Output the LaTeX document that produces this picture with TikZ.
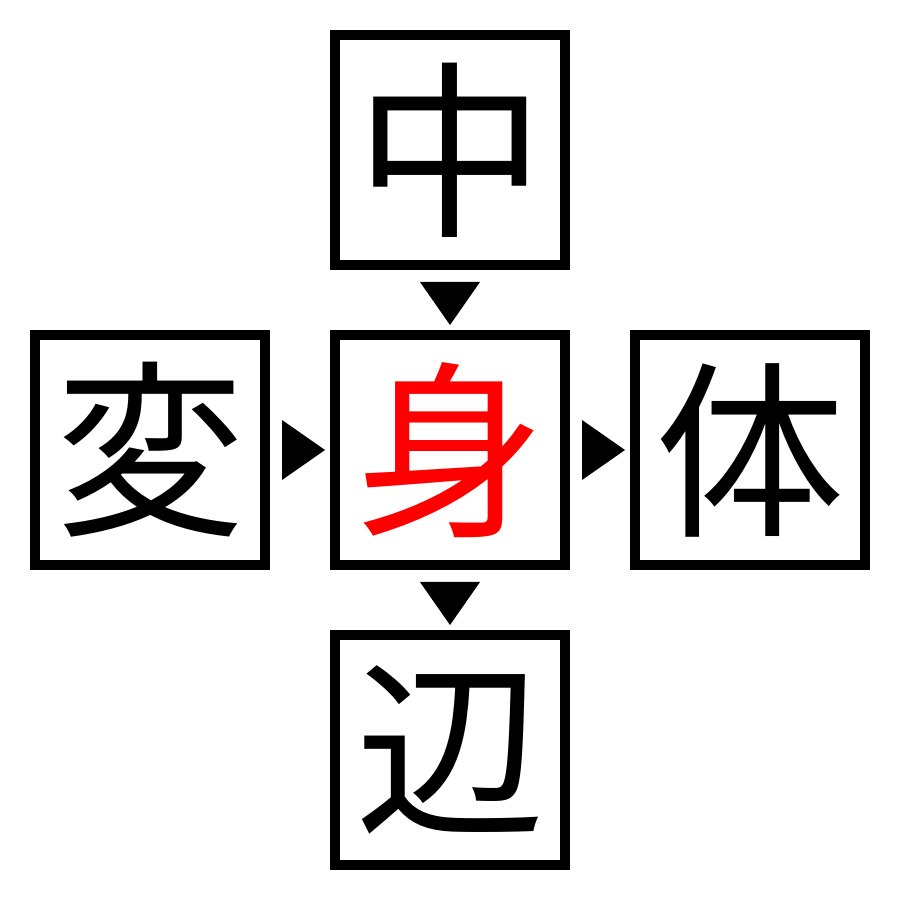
\documentclass[tikz,border=0pt]{standalone}
\usepackage{fontspec}
\newfontfamily\cjk{Noto Sans CJK JP}
\usetikzlibrary{calc}

\begin{document}
\begin{tikzpicture}[scale=1.0,
    cell/.style={draw,line width=2.845pt,minimum size=2.3cm,inner sep=0pt,
                 font=\cjk\fontsize{54}{54}\selectfont}]
    \useasboundingbox(0,0)rectangle(9,9);

    \node[cell](top)  at(4.5,7.5){中};
    \node[cell](left) at(1.5,4.5){変};
    \node[cell,text=red](mid)  at(4.5,4.5){身};
    \node[cell](right)at(7.5,4.5){体};
    \node[cell](bot)  at(4.5,1.5){辺};

    \fill(2.82,4.8)--(3.25,4.5)--(2.82,4.2)--cycle;
    \fill(5.82,4.8)--(6.25,4.5)--(5.82,4.2)--cycle;
    \fill(4.2,6.18)--(4.5,5.75)--(4.8,6.18)--cycle;
    \fill(4.2,3.18)--(4.5,2.75)--(4.8,3.18)--cycle;
  \end{tikzpicture}
\end{document}
